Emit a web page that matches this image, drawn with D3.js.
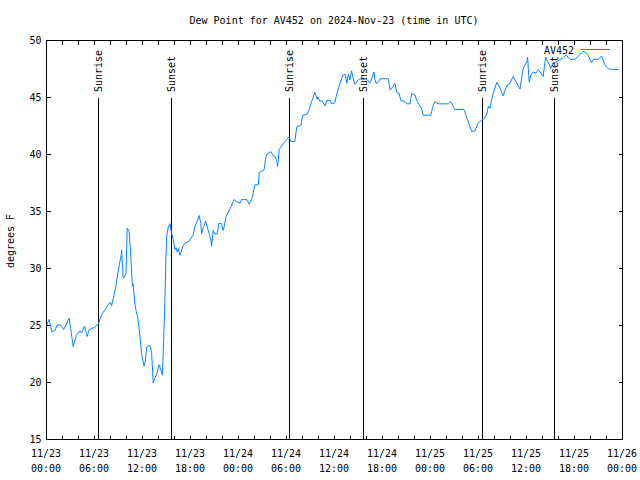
<!DOCTYPE html>
<html>
<head>
<meta charset="utf-8">
<script src="https://cdn.jsdelivr.net/npm/d3@7/dist/d3.min.js"></script>
<style>
  html, body { margin: 0; padding: 0; background: #fff; }
  svg { display: block; }
  text { font-family: "DejaVu Sans Mono", monospace; font-size: 10px; fill: #000; }
</style>
</head>
<body>
<svg id="chart" width="640" height="480"></svg>
<script>
// ---- data (hours since 2024-11-23 00:00 UTC, dew point in °F) ----
const titleText = "Dew Point for AV452 on 2024-Nov-23 (time in UTC)";
const seriesName = "AV452";
const yLabel = "degrees F";
const startTime = "2024-11-23T00:00:00Z";
const endTime = "2024-11-26T00:00:00Z";
const yTicks = [15, 20, 25, 30, 35, 40, 45, 50];

const hours = [
  0.09, 0.41, 0.71, 1.1, 1.4, 1.8, 2.2, 2.9, 3.4, 3.8, 4.25, 4.45, 4.8, 5.15, 5.4, 6.1, 6.55, 6.95,
  7.6, 8.0, 8.2, 8.5, 8.75, 8.95, 9.25, 9.4, 9.45, 9.55, 9.65, 10.0, 10.15, 10.4, 10.6, 10.8, 10.9,
  11.1, 11.35, 11.45, 11.75, 11.95, 12.25, 12.4, 12.6, 13.0, 13.2, 13.4, 13.6, 13.9, 14.15, 14.3,
  14.55, 14.65, 14.8, 14.9, 15.0, 15.1, 15.3, 15.5, 15.7, 15.9, 16.1, 16.25, 16.4, 16.55, 16.75,
  17.1, 17.4, 17.8, 18.2, 18.4, 18.6, 18.9, 19.15, 19.35, 19.45, 19.65, 19.95, 20.15, 20.4, 20.6,
  20.7, 20.9, 21.1, 21.4, 21.6, 21.95, 22.15, 22.3, 22.5, 22.8, 23.2, 23.5, 23.85, 24.25, 24.45,
  25.1, 25.4, 25.7, 25.9, 26.1, 26.55, 26.65, 27.25, 27.5, 27.8, 28.1, 28.35, 28.6, 28.85, 28.95,
  29.15, 29.45, 29.75, 30.1, 30.4, 30.6, 31.1, 31.35, 31.85, 32.1, 32.65, 32.9, 33.2, 33.6, 33.9,
  34.0, 34.25, 34.45, 34.9, 35.1, 35.5, 35.7, 36.1, 36.35, 36.5, 36.75, 37.1, 37.4, 37.6, 37.8,
  38.0, 38.2, 38.4, 38.6, 38.9, 39.25, 39.6, 39.9, 40.15, 40.5, 40.7, 41.0, 41.1, 41.25, 41.55,
  41.75, 42.8, 43.0, 43.35, 43.6, 43.85, 44.15, 44.35, 44.9, 45.1, 45.5, 45.7, 46.1, 46.4, 46.65,
  46.95, 47.15, 48.1, 48.3, 48.6, 49.0, 50.3, 50.6, 51.1, 52.25, 52.6, 52.9, 53.2, 53.6, 54.0,
  54.35, 54.75, 55.1, 55.3, 55.5, 55.7, 55.9, 56.35, 56.75, 57.15, 57.6, 57.9, 58.4, 58.85, 59.25,
  59.65, 60.1, 60.2, 60.4, 60.6, 60.9, 61.25, 61.55, 61.85, 62.15, 62.45, 62.8, 63.1, 63.4, 63.85,
  64.25, 64.65, 65.0, 65.5, 66.1, 66.55, 67.15, 67.5, 67.8, 68.2, 68.4, 69.05, 69.45, 69.75, 70.1,
  70.3, 70.7, 71.55
];
const dewF = [
  25.0, 25.5, 24.4, 24.5, 25.0, 25.0, 24.6, 25.6, 23.1, 24.1, 24.5, 24.3, 24.9, 24.0, 24.6, 24.8, 25.1, 25.9,
  26.6, 27.0, 26.7, 27.6, 28.5, 29.4, 30.6, 31.1, 31.6, 30.4, 29.1, 29.5, 33.5, 33.2, 31.0, 28.4, 28.6,
  26.9, 25.9, 25.8, 24.0, 22.5, 21.4, 21.8, 23.1, 23.2, 22.6, 19.9, 20.3, 20.8, 21.5, 21.2,
  20.6, 22.5, 25.7, 28.1, 31.0, 32.9, 33.6, 33.9, 33.0, 32.6, 31.6, 31.8, 31.4, 31.7, 31.1,
  31.9, 32.2, 32.3, 32.7, 32.9, 33.6, 34.1, 34.6, 33.9, 33.0, 33.5, 34.1, 33.6, 33.0, 32.5,
  31.9, 33.3, 33.0, 33.0, 33.9, 33.9, 33.3, 33.7, 34.5, 34.9, 35.5, 36.0, 35.8, 35.7, 36.0,
  36.0, 35.6, 36.0, 36.6, 37.3, 37.3, 38.4, 38.6, 39.8, 40.1, 40.2, 39.9, 39.8, 39.4, 38.9,
  40.4, 40.7, 41.0, 41.3, 41.5, 41.1, 41.1, 42.4, 42.5, 43.4, 43.5, 43.9, 44.6, 45.4, 44.8,
  45.0, 44.6, 44.7, 44.2, 44.7, 44.7, 44.4, 44.5, 45.3, 45.6, 46.2, 46.9, 47.0, 46.2, 47.0,
  46.5, 47.3, 46.6, 46.1, 46.4, 46.6, 46.5, 46.6, 46.5, 46.2, 46.6, 47.2, 46.6, 46.2, 46.3,
  46.6, 46.6, 45.6, 45.9, 46.2, 45.4, 45.3, 44.7, 44.6, 44.4, 44.4, 45.3, 45.2, 44.6, 44.3,
  44.0, 43.4, 43.4, 44.0, 44.6, 44.4, 44.4, 44.6, 43.9, 43.9, 43.2, 42.6, 42.0, 42.0, 42.7,
  42.9, 43.1, 43.5, 44.2, 44.0, 44.7, 45.3, 46.3, 45.8, 45.1, 46.0, 46.1, 46.8, 46.2, 45.7,
  47.5, 48.1, 48.5, 46.3, 46.9, 47.2, 47.1, 47.4, 47.1, 46.8, 48.5, 48.0, 47.5, 48.0, 48.1,
  48.3, 48.4, 48.7, 48.3, 48.3, 48.6, 49.0, 48.9, 48.6, 48.0, 48.3, 48.3, 48.6, 48.0, 47.6,
  47.5, 47.4, 47.4
];

// Sunrise / sunset markers (hours since start)
const eventLabels = ["Sunrise", "Sunset", "Sunrise", "Sunset", "Sunrise", "Sunset"];
const eventHours = [6.54, 15.62, 30.41, 39.66, 54.46, 63.54];

// ---- drawing ----
const M = { left: 46, right: 622, top: 40, bottom: 439 };
const svg = d3.select("#chart");
const t0 = new Date(startTime).getTime();
const toDate = h => new Date(t0 + h * 3600e3);

const x = d3.scaleUtc().domain([new Date(startTime), new Date(endTime)]).range([M.left, M.right]);
const y = d3.scaleLinear().domain([15, 50]).range([M.bottom, M.top]);

const data = hours.map((h, i) => ({ t: toDate(h), v: dewF[i] }));

// title
svg.append("text").attr("x", 334).attr("y", 24).attr("text-anchor", "middle").text(titleText);

// y label
svg.append("text").attr("transform", "translate(14,241) rotate(-90)")
  .attr("text-anchor", "middle").text(yLabel);

const endPlus = new Date(new Date(endTime).getTime() + 1);
const xTickVals = d3.utcHour.every(2).range(new Date(startTime), endPlus);
const xLabelVals = d3.utcHour.every(6).range(new Date(startTime), endPlus);

// bottom ticks (inward)
const gB = svg.append("g").attr("transform", `translate(0,${M.bottom + 0.5})`)
  .call(d3.axisBottom(x).tickValues(xTickVals).tickSize(-4).tickFormat(""));
// top ticks (inward)
const gT = svg.append("g").attr("transform", `translate(0,${M.top + 0.5})`)
  .call(d3.axisTop(x).tickValues(xTickVals).tickSize(-4).tickFormat(""));
// left axis
const gL = svg.append("g").attr("transform", `translate(${M.left + 0.5},0)`)
  .call(d3.axisLeft(y).tickValues(yTicks).tickSize(-4).tickPadding(5).tickFormat(d3.format("d")));
// right ticks
const gR = svg.append("g").attr("transform", `translate(${M.right + 0.5},0)`)
  .call(d3.axisRight(y).tickValues(yTicks).tickSize(-4).tickFormat(""));

[gB, gT, gL, gR].forEach(g => {
  g.select(".domain").remove();
  g.selectAll("line").attr("stroke", "#000").attr("shape-rendering", "crispEdges");
  g.selectAll("text").attr("font-family", "DejaVu Sans Mono").attr("font-size", 10).attr("fill", "#000");
});
gL.selectAll("text").attr("dy", "0.35em");

// x labels, two lines
const fDate = d3.utcFormat("%m/%d"), fTime = d3.utcFormat("%H:%M");
const xl = svg.append("g").selectAll("g").data(xLabelVals).join("g");
xl.append("text").attr("x", d => x(d)).attr("y", 457).attr("text-anchor", "middle").text(d => fDate(d));
xl.append("text").attr("x", d => x(d)).attr("y", 472).attr("text-anchor", "middle").text(d => fTime(d));

// sunrise/sunset lines
const ev = svg.append("g").selectAll("g").data(eventHours.map((h, i) => ({ t: toDate(h), label: eventLabels[i] }))).join("g");
ev.append("line")
  .attr("x1", d => Math.round(x(d.t)) + 0.5).attr("x2", d => Math.round(x(d.t)) + 0.5)
  .attr("y1", 98).attr("y2", M.bottom)
  .attr("stroke", "#000").attr("stroke-width", 1).attr("shape-rendering", "crispEdges");
ev.append("text")
  .attr("transform", d => `translate(${Math.round(x(d.t)) + 4},92) rotate(-90)`)
  .attr("text-anchor", "start").text(d => d.label);

// data line
const line = d3.line().x(d => x(d.t)).y(d => y(d.v));
svg.append("path").datum(data).attr("d", line)
  .attr("fill", "none").attr("stroke", "#0a84ff").attr("stroke-width", 1);

// legend
svg.append("text").attr("x", 574).attr("y", 54).attr("text-anchor", "end").text(seriesName);
svg.append("line").attr("x1", 581).attr("x2", 610).attr("y1", 49.5).attr("y2", 49.5)
  .attr("stroke", "#0a84ff").attr("stroke-width", 1);

// frame
svg.append("rect").attr("x", M.left + 0.5).attr("y", M.top + 0.5)
  .attr("width", M.right - M.left).attr("height", M.bottom - M.top)
  .attr("fill", "none").attr("stroke", "#000").attr("shape-rendering", "crispEdges");
</script>
</body>
</html>
